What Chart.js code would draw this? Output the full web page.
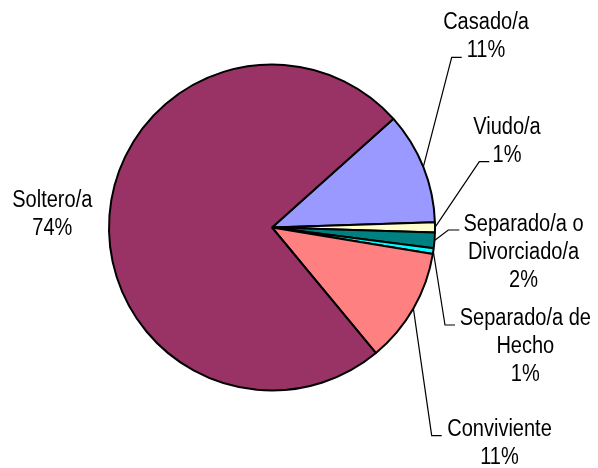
<!DOCTYPE html>
<html><head><meta charset="utf-8">
<script src="https://cdn.jsdelivr.net/npm/chart.js@4"></script>
<style>html,body{margin:0;padding:0;background:#fff}</style>
</head><body>
<canvas id="c" width="598" height="468"></canvas>
<script>
// ---- data ----
const categories = ['Casado/a', 'Viudo/a', 'Separado/a o Divorciado/a', 'Separado/a de Hecho', 'Conviviente', 'Soltero/a'];
const labelLines = [['Casado/a'], ['Viudo/a'], ['Separado/a o', 'Divorciado/a'], ['Separado/a de', 'Hecho'], ['Conviviente'], ['Soltero/a']];
const percentages = [11.1, 1.0, 1.55, 0.55, 11.4, 74.4];
const sliceColors = ['#9999FF', '#FFFFCC', '#008080', '#00FFFF', '#FF8080', '#993366'];

// ---- label layout (text centre x, first baseline y, elbow point, tail length) ----
const labelLayout = [
  {tx: 486, ty: 29.3, ex: 451.7, ey: 57.3, tail: 10},
  {tx: 507, ty: 134, ex: 479.3, ey: 161.7, tail: 10},
  {tx: 523.5, ty: 230.7, ex: 448.3, ey: 230, tail: 11},
  {tx: 525.3, ty: 325, ex: 445, ey: 325, tail: 10},
  {tx: 499.5, ty: 435.7, ex: 431.7, ey: 435.7, tail: 10},
  {tx: 52.3, ty: 207.3, ex: null, ey: null, tail: 0}
];
const FONT_PX = 23, LINE_H = 28, X_SCALE = 0.87;

const labelPlugin = {
  id: 'pieLabels',
  afterDatasetsDraw(chart) {
    const ctx = chart.ctx;
    const meta = chart.getDatasetMeta(0);
    const data = chart.data.datasets[0].data;
    const total = data.reduce((a, b) => a + b, 0);
    ctx.save();
    meta.data.forEach((arc, i) => {
      const p = arc.getProps(['x', 'y', 'startAngle', 'endAngle', 'outerRadius'], true);
      const mid = (p.startAngle + p.endAngle) / 2;
      const L = labelLayout[i];
      if (L.ex !== null) {
        const sx = p.x + Math.cos(mid) * p.outerRadius;
        const sy = p.y + Math.sin(mid) * p.outerRadius;
        ctx.beginPath();
        ctx.strokeStyle = '#000';
        ctx.lineWidth = 1.2;
        ctx.moveTo(sx, sy);
        ctx.lineTo(L.ex, L.ey);
        ctx.lineTo(L.ex + L.tail, L.ey);
        ctx.stroke();
      }
      const lines = labelLines[i].concat([Math.round(data[i] / total * 100) + '%']);
      ctx.fillStyle = '#000';
      ctx.font = FONT_PX + 'px "Liberation Sans", Arial, sans-serif';
      ctx.textAlign = 'center';
      ctx.textBaseline = 'alphabetic';
      lines.forEach((t, k) => {
        ctx.save();
        ctx.translate(L.tx, L.ty + k * LINE_H);
        ctx.scale(X_SCALE, 1);
        ctx.fillText(t, 0, 0);
        ctx.restore();
      });
    });
    ctx.restore();
  }
};

new Chart(document.getElementById('c'), {
  type: 'pie',
  data: {
    labels: categories,
    datasets: [{
      data: percentages,
      backgroundColor: sliceColors,
      borderColor: '#000',
      borderWidth: 2,
      hoverOffset: 0
    }]
  },
  options: {
    responsive: false,
    devicePixelRatio: 1,
    animation: false,
    rotation: 48.2,
    radius: 163,
    layout: {padding: {left: 0, top: 0, right: 54, bottom: 13}},
    plugins: {legend: {display: false}, tooltip: {enabled: false}}
  },
  plugins: [labelPlugin]
});
</script>
</body></html>
